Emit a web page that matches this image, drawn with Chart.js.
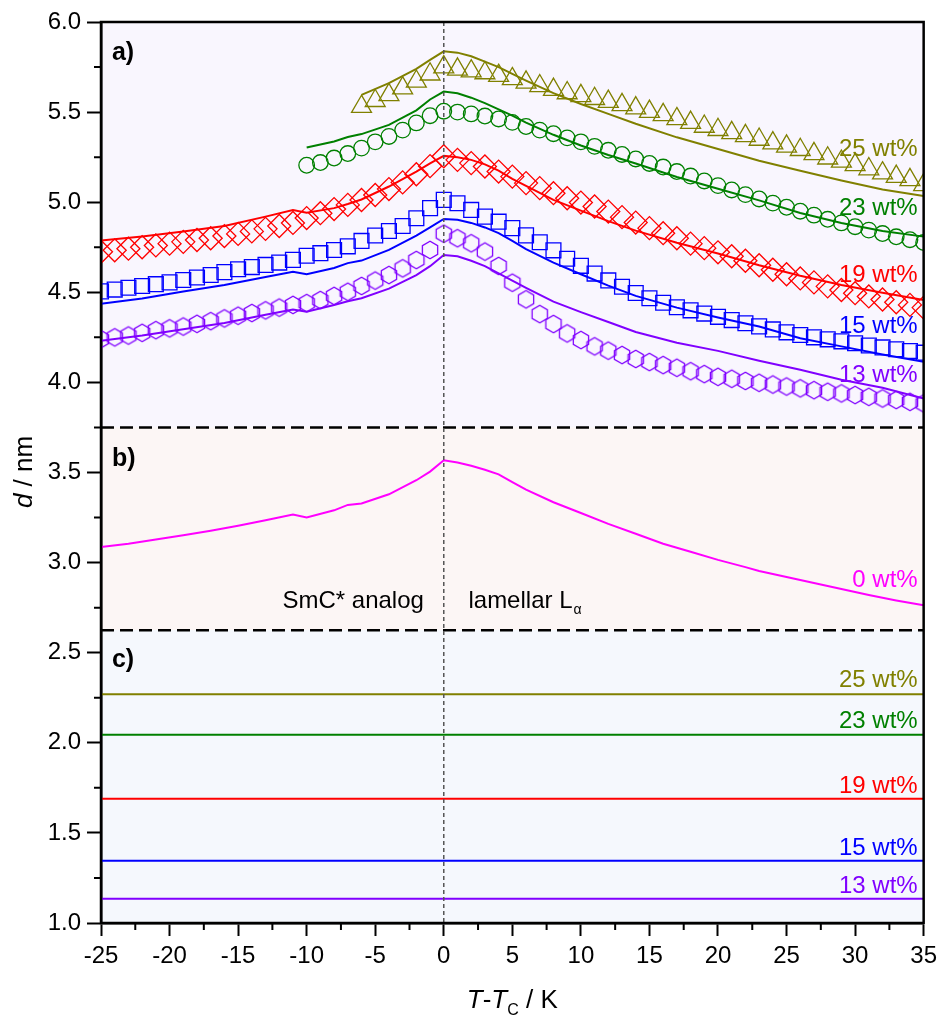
<!DOCTYPE html>
<html lang="en">
<head>
<meta charset="UTF-8">
<title>Layer spacing d vs T-Tc</title>
<script src="https://cdn.jsdelivr.net/npm/chart.js"></script>
<style>
  html, body { margin: 0; padding: 0; background: #fff; }
  canvas { display: block; }
</style>
</head>
<body>
<canvas id="chart" width="943" height="1019"></canvas>
<script>
// temperature grid of the measured points (K relative to Tc)
const tAll = [-25,-24,-23,-22,-21,-20,-19,-18,-17,-16,-15,-14,-13,-12,-11,-10,-9,-8,-7,-6,-5,-4,-3,-2,-1,
              0,1,2,3,4,5,6,7,8,9,10,11,12,13,14,15,16,17,18,19,20,21,22,23,24,25,26,27,28,29,30,31,32,33,34,35];
const t23 = tAll.slice(15);   // from -10 K
const t25 = tAll.slice(19);   // from -6 K

// measured d / nm
const d13 = [4.24,4.25,4.26,4.275,4.29,4.30,4.31,4.325,4.34,4.355,4.37,4.385,4.40,4.415,4.43,
             4.44,4.457,4.48,4.503,4.535,4.565,4.596,4.633,4.679,4.735,
             4.825,
             4.80,4.772,4.726,4.646,4.553,4.461,4.379,4.324,4.272,4.235,
             4.20,4.176,4.152,4.13,4.113,4.096,4.081,4.062,4.046,4.031,
             4.02,4.008,3.998,3.988,3.977,3.967,3.957,3.948,3.939,3.93,
             3.92,3.911,3.902,3.892,3.883];
const d15 = [4.505,4.515,4.525,4.535,4.545,4.555,4.568,4.582,4.596,4.612,4.628,4.64,4.652,4.665,4.68,
             4.703,4.717,4.735,4.755,4.785,4.815,4.84,4.868,4.911,4.967,
             5.013,
             4.994,4.957,4.92,4.892,4.856,4.816,4.778,4.733,4.686,4.647,
             4.604,4.566,4.531,4.496,4.467,4.442,4.417,4.40,4.382,4.364,
             4.346,4.328,4.311,4.294,4.278,4.263,4.25,4.239,4.228,4.217,
             4.205,4.194,4.184,4.174,4.165];
const d19 = [4.725,4.733,4.742,4.75,4.76,4.77,4.78,4.79,4.80,4.812,4.824,4.838,4.852,4.868,4.885,
             4.912,4.939,4.962,4.985,5.012,5.04,5.073,5.11,5.155,5.20,
             5.255,
             5.235,5.217,5.198,5.17,5.142,5.106,5.078,5.05,5.022,4.998,
             4.976,4.948,4.917,4.887,4.856,4.828,4.80,4.77,4.745,4.722,
             4.70,4.675,4.65,4.625,4.60,4.577,4.555,4.533,4.513,4.495,
             4.477,4.46,4.445,4.43,4.415];
const d23 = [5.205,5.22,5.245,5.27,5.30,5.335,5.365,5.40,5.44,5.48,
             5.505,
             5.50,5.49,5.478,5.462,5.443,5.42,5.40,5.38,5.357,5.335,
             5.31,5.288,5.265,5.24,5.215,5.195,5.17,5.145,5.118,5.092,
             5.068,5.042,5.018,4.995,4.972,4.95,4.928,4.905,4.885,4.864,
             4.845,4.826,4.808,4.792,4.776];
const d25 = [5.53,5.563,5.596,5.633,5.67,5.71,
             5.75,
             5.737,5.727,5.717,5.702,5.684,5.665,5.645,5.625,5.606,5.59,
             5.574,5.558,5.54,5.522,5.503,5.485,5.462,5.442,5.42,5.402,
             5.385,5.368,5.348,5.328,5.31,5.291,5.268,5.244,5.226,5.207,
             5.184,5.161,5.142,5.124,5.096];

// calculated curves
const tFit = [-25,-22,-19,-16,-13,-11,-10,-8,-7,-6,-4,-2,-1,0,1,2,3,4,5,6,8,10,12,14,17,20,23,26,29,32,35];
const fit13 = [4.231,4.26,4.295,4.33,4.375,4.405,4.392,4.43,4.45,4.467,4.52,4.595,4.645,4.707,4.70,4.675,
               4.645,4.605,4.565,4.525,4.448,4.39,4.335,4.28,4.22,4.175,4.12,4.07,4.015,3.97,3.911];
const fit15 = [4.437,4.465,4.505,4.54,4.585,4.614,4.60,4.635,4.662,4.676,4.735,4.815,4.86,4.907,4.902,4.885,
               4.86,4.828,4.785,4.74,4.665,4.60,4.537,4.48,4.415,4.36,4.31,4.245,4.20,4.155,4.115];
const fit19 = [4.787,4.81,4.838,4.868,4.92,4.957,4.942,4.967,4.99,5.015,5.087,5.17,5.215,5.257,5.25,5.235,
               5.21,5.175,5.13,5.09,5.013,4.953,4.895,4.842,4.775,4.715,4.65,4.592,4.54,4.497,4.457];
const fit23 = [5.303,5.337,5.362,5.378,5.429,5.51,5.57,5.614,5.605,5.58,5.55,5.515,5.48,5.442,5.374,
               5.315,5.262,5.215,5.14,5.075,5.01,4.94,4.885,4.84,4.809];
const fit25 = [5.596,5.661,5.74,5.79,5.837,5.83,5.81,5.78,5.75,5.712,5.675,5.605,5.545,5.49,5.435,
               5.36,5.295,5.23,5.175,5.12,5.07,5.035];

// pure system (0 wt%)
const tPure = [-25,-23,-21,-19,-17,-15,-13,-11,-10,-8,-7,-6,-4,-2,-1,0,1,2,3,4,5,6,8,10,12,14,16,18,20,22,23,25,28,31,33,35];
const d0 = [3.087,3.105,3.128,3.152,3.177,3.205,3.235,3.267,3.25,3.29,3.32,3.328,3.379,3.457,3.505,3.568,
            3.555,3.537,3.515,3.49,3.447,3.405,3.335,3.275,3.215,3.16,3.105,3.06,3.015,2.975,2.953,2.92,
            2.87,2.82,2.79,2.763];

// constant values in panel c)
const concLabels = ['25 wt%', '23 wt%', '19 wt%', '15 wt%', '13 wt%'];
const constD = [2.27, 2.045, 1.69, 1.345, 1.135];
const tRange = [-25, 35];

const OLIVE = '#808000', GREEN = '#008000', RED = '#ff0000', BLUE = '#0000ff', VIOLET = '#8000ff', MAGENTA = '#ff00ff';
const concColors = [OLIVE, GREEN, RED, BLUE, VIOLET];
const FONT = '"Liberation Sans", Arial, sans-serif';

const pts = (xs, ys) => ys.map((v, i) => ({x: xs[i], y: v}));

function hexagon(color, r) {
  const c = document.createElement('canvas');
  const s = 2 * Math.ceil(r + 2);
  c.width = s; c.height = s;
  const g = c.getContext('2d');
  g.strokeStyle = color;
  g.lineWidth = 1.3;
  g.beginPath();
  for (let i = 0; i < 6; i++) {
    const a = Math.PI / 2 + i * Math.PI / 3;
    const px = s / 2 + r * Math.cos(a), py = s / 2 + r * Math.sin(a);
    if (i) g.lineTo(px, py); else g.moveTo(px, py);
  }
  g.closePath();
  g.stroke();
  return c;
}

function markers(xs, ys, color, style, radius) {
  return {
    data: pts(xs, ys), showLine: false, order: 2, clip: 0,
    pointStyle: style, pointRadius: radius, pointBorderColor: color,
    pointBackgroundColor: 'rgba(0,0,0,0)', pointBorderWidth: 1.3
  };
}
function curve(xs, ys, color, width) {
  return {
    data: pts(xs, ys), showLine: true, order: 1, clip: 0,
    borderColor: color, borderWidth: width, pointRadius: 0, tension: 0
  };
}

const datasets = [
  markers(t25, d25, OLIVE, 'triangle', 11.5),
  markers(t23, d23, GREEN, 'circle', 7.8),
  markers(tAll, d19, RED, 'rectRot', 11.5),
  markers(tAll, d15, BLUE, 'rect', 10.5),
  markers(tAll, d13, VIOLET, hexagon(VIOLET, 8.8), 8),
  curve(tFit.slice(9), fit25, OLIVE, 2),
  curve(tFit.slice(6), fit23, GREEN, 2),
  curve(tFit, fit19, RED, 2),
  curve(tFit, fit15, BLUE, 2),
  curve(tFit, fit13, VIOLET, 2),
  curve(tPure, d0, MAGENTA, 2)
];
constD.forEach((v, i) => datasets.push(curve(tRange, [v, v], concColors[i], 2)));

// panel backgrounds and the boundaries between them
const panels = [
  {from: 3.75, to: 6, fill: '#f9f6fe'},
  {from: 2.625, to: 3.75, fill: '#fcf6f5'},
  {from: 1, to: 2.625, fill: '#f5f8fd'}
];
const splits = [3.75, 2.625];

// text placed in data units
const notes = [
  {text: '25 wt%', y: 5.257, color: OLIVE},
  {text: '23 wt%', y: 4.929, color: GREEN},
  {text: '19 wt%', y: 4.557, color: RED},
  {text: '15 wt%', y: 4.274, color: BLUE},
  {text: '13 wt%', y: 4.002, color: VIOLET},
  {text: '0 wt%', y: 2.863, color: MAGENTA},
  {text: '25 wt%', y: 2.309, color: OLIVE},
  {text: '23 wt%', y: 2.081, color: GREEN},
  {text: '19 wt%', y: 1.72, color: RED},
  {text: '15 wt%', y: 1.376, color: BLUE},
  {text: '13 wt%', y: 1.165, color: VIOLET}
];
const panelTags = [{text: 'a)', y: 5.79}, {text: 'b)', y: 3.535}, {text: 'c)', y: 2.418}];

const deco = {
  id: 'deco',
  beforeDraw(chart) {
    const {ctx, chartArea: a, scales: {y}} = chart;
    ctx.save();
    panels.forEach(p => {
      const top = y.getPixelForValue(p.to), bottom = y.getPixelForValue(p.from);
      ctx.fillStyle = p.fill;
      ctx.fillRect(a.left, top, a.right - a.left, bottom - top);
    });
    ctx.restore();
  },
  beforeDatasetsDraw(chart) {
    const {ctx, chartArea: a, scales: {y}} = chart;
    ctx.save();
    ctx.strokeStyle = '#000';
    ctx.lineWidth = 2.5;
    ctx.setLineDash([13, 6]);
    splits.forEach(v => {
      const py = y.getPixelForValue(v);
      ctx.beginPath(); ctx.moveTo(a.left, py); ctx.lineTo(a.right, py); ctx.stroke();
    });
    ctx.restore();
  },
  afterDatasetsDraw(chart) {
    const {ctx, chartArea: a, scales: {x, y}} = chart;
    ctx.save();
    // transition temperature
    const px0 = x.getPixelForValue(0);
    ctx.strokeStyle = '#555';
    ctx.lineWidth = 1.5;
    ctx.setLineDash([4, 3]);
    ctx.beginPath(); ctx.moveTo(px0, a.top); ctx.lineTo(px0, a.bottom); ctx.stroke();
    ctx.setLineDash([]);

    ctx.font = '24px ' + FONT;
    ctx.textBaseline = 'alphabetic';
    ctx.textAlign = 'right';
    notes.forEach(n => {
      ctx.fillStyle = n.color;
      ctx.fillText(n.text, a.right - 6, y.getPixelForValue(n.y));
    });

    ctx.fillStyle = '#000';
    const yPhase = y.getPixelForValue(2.746);
    ctx.fillText('SmC* analog', x.getPixelForValue(-1.45), yPhase);
    ctx.textAlign = 'left';
    const lx = x.getPixelForValue(1.8);
    ctx.fillText('lamellar L', lx, yPhase);
    const w = ctx.measureText('lamellar L').width;
    ctx.font = '14px ' + FONT;
    ctx.fillText('\u03b1', lx + w + 1, yPhase + 6);

    ctx.font = 'bold 25px ' + FONT;
    panelTags.forEach(p => ctx.fillText(p.text, x.getPixelForValue(-24.2), y.getPixelForValue(p.y)));
    ctx.restore();
  },
  afterDraw(chart) {
    const {ctx, chartArea: a, scales: {x, y}} = chart;
    ctx.save();
    ctx.strokeStyle = '#000';
    // frame
    ctx.lineWidth = 2.5;
    ctx.strokeRect(a.left, a.top, a.right - a.left, a.bottom - a.top);
    // minor ticks
    ctx.lineWidth = 2;
    ctx.beginPath();
    for (let v = 1.25; v < 6; v += 0.5) {
      const py = y.getPixelForValue(v);
      ctx.moveTo(a.left - 7, py); ctx.lineTo(a.left, py);
    }
    for (let v = -22.5; v < 35; v += 5) {
      const px = x.getPixelForValue(v);
      ctx.moveTo(px, a.bottom); ctx.lineTo(px, a.bottom + 7);
    }
    ctx.stroke();

    // axis titles
    ctx.fillStyle = '#000';
    ctx.textBaseline = 'alphabetic';
    ctx.textAlign = 'left';
    const parts = [
      {t: 'T', f: 'italic 26px ' + FONT, dy: 0},
      {t: '-', f: '26px ' + FONT, dy: 0},
      {t: 'T', f: 'italic 26px ' + FONT, dy: 0},
      {t: 'C', f: '16px ' + FONT, dy: 7},
      {t: ' / K', f: '26px ' + FONT, dy: 0}
    ];
    let total = 0;
    parts.forEach(p => { ctx.font = p.f; p.w = ctx.measureText(p.t).width; total += p.w; });
    let cx = (a.left + a.right) / 2 - total / 2;
    parts.forEach(p => { ctx.font = p.f; ctx.fillText(p.t, cx, 1008 + p.dy); cx += p.w; });

    ctx.translate(32, 472);
    ctx.rotate(-Math.PI / 2);
    const yParts = [{t: 'd', f: 'italic 26px ' + FONT}, {t: ' / nm', f: '26px ' + FONT}];
    total = 0;
    yParts.forEach(p => { ctx.font = p.f; p.w = ctx.measureText(p.t).width; total += p.w; });
    cx = -total / 2;
    yParts.forEach(p => { ctx.font = p.f; ctx.fillText(p.t, cx, 0); cx += p.w; });
    ctx.restore();
  }
};

new Chart(document.getElementById('chart'), {
  type: 'scatter',
  data: {datasets},
  options: {
    responsive: false,
    animation: false,
    layout: {padding: {top: 22, right: 17, left: 0, bottom: 0}},
    plugins: {legend: {display: false}, tooltip: {enabled: false}},
    scales: {
      x: {
        type: 'linear', min: -25, max: 35,
        afterFit: s => { s.height = 96; },
        ticks: {stepSize: 5, color: '#000', font: {family: FONT, size: 24}, padding: 6, maxRotation: 0},
        grid: {drawOnChartArea: false, drawTicks: true, tickLength: 13, tickWidth: 2, tickColor: '#000'},
        border: {color: '#000', width: 2.5}
      },
      y: {
        type: 'linear', min: 1, max: 6,
        afterFit: s => { s.width = 101; },
        ticks: {stepSize: 0.5, color: '#000', font: {family: FONT, size: 24}, padding: 6,
                callback: v => v.toFixed(1)},
        grid: {drawOnChartArea: false, drawTicks: true, tickLength: 14, tickWidth: 2, tickColor: '#000'},
        border: {color: '#000', width: 2.5}
      }
    }
  },
  plugins: [deco]
});
</script>
</body>
</html>
